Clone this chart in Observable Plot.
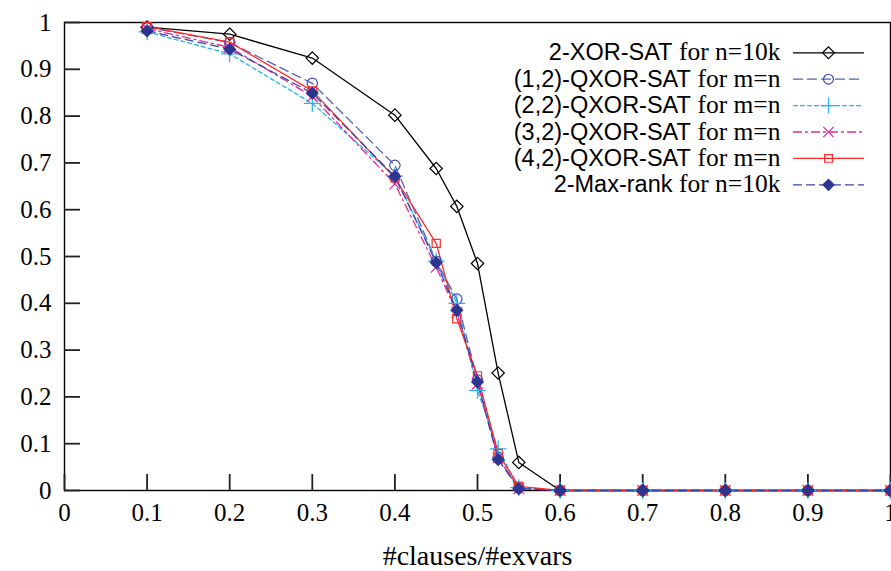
<!DOCTYPE html>
<html><head><meta charset="utf-8">
<script src="https://cdn.jsdelivr.net/npm/d3@7"></script>
<script src="https://cdn.jsdelivr.net/npm/@observablehq/plot@0.6"></script>
<style>
body{margin:0;background:#fff}
#chart svg{display:block}
#chart svg text{font-family:"Liberation Serif",serif !important;}
#chart svg g[aria-label="x-axis tick label"] text,
#chart svg g[aria-label="y-axis tick label"] text{font-size:25px !important;}
#chart svg g[aria-label="x-axis label"] text{font-size:28px !important;}
#chart svg tspan.sans{font-family:"Liberation Sans",sans-serif !important;font-size:23.5px;}
#chart svg tspan.serif{font-family:"Liberation Serif",serif !important;font-size:25.5px;}
</style>
</head><body><div id="chart"></div>
<script>
// x values: #clauses/#exvars
const ratios   = [0.1, 0.2, 0.3, 0.4, 0.45, 0.475, 0.5, 0.525, 0.55, 0.6, 0.7, 0.8, 0.9, 1.0];
const xorSat2  = [0.990, 0.975, 0.924, 0.802, 0.688, 0.607, 0.485, 0.251, 0.060, 0, 0, 0, 0, 0];
const qxor12   = [0.990, 0.957, 0.870, 0.695, 0.490, 0.409, 0.236, 0.070, 0.005, 0, 0, 0, 0, 0];
const qxor22   = [0.980, 0.933, 0.827, 0.672, 0.490, 0.400, 0.214, 0.089, 0.006, 0, 0, 0, 0, 0];
const qxor32   = [0.987, 0.947, 0.842, 0.655, 0.477, 0.380, 0.228, 0.070, 0.004, 0, 0, 0, 0, 0];
const qxor42   = [0.991, 0.958, 0.854, 0.668, 0.528, 0.367, 0.245, 0.079, 0.009, 0, 0, 0, 0, 0];
const maxRank2 = [0.982, 0.943, 0.849, 0.671, 0.487, 0.385, 0.232, 0.066, 0.004, 0, 0, 0, 0, 0];
const seriesNames = ["2-XOR-SAT for n=10k", "(1,2)-QXOR-SAT for m=n", "(2,2)-QXOR-SAT for m=n",
                     "(3,2)-QXOR-SAT for m=n", "(4,2)-QXOR-SAT for m=n", "2-Max-rank for n=10k"];
const seriesValues = [xorSat2, qxor12, qxor22, qxor32, qxor42, maxRank2];
const xTicks = [0, 0.1, 0.2, 0.3, 0.4, 0.5, 0.6, 0.7, 0.8, 0.9, 1];
const yTicks = [0, 0.1, 0.2, 0.3, 0.4, 0.5, 0.6, 0.7, 0.8, 0.9, 1];
const xLabel = "#clauses/#exvars";

// styles (separate from data)
const styles = [
  {stroke: "#000000", dash: null,        symbol: "diamond2", fill: "none",    r: 5.6, mstroke: "#000000"},
  {stroke: "#5560b8", dash: "9,5",       symbol: "circle",   fill: "none",    r: 5.2, mstroke: "#3f4ab8"},
  {stroke: "#22b4ee", dash: "4,3",       symbol: "plus",     fill: "none",    r: 5.5, mstroke: "#22b4ee"},
  {stroke: "#e0289a", dash: "8,4,2,4",   symbol: "times",    fill: "none",    r: 5.0, mstroke: "#e0289a"},
  {stroke: "#ff2a2a", dash: null,        symbol: "square",   fill: "none",    r: 4.6, mstroke: "#ff2a2a"},
  {stroke: "#3a44a8", dash: "8,5",       symbol: "diamond2", fill: "#2c3590", r: 5.2, mstroke: "#2c3590"}
];

const W = 891, H = 571, mL = 64, mR = 1, mT = 22, mB = 81;
const plotW = W - mL - mR, plotH = H - mT - mB;
const tickLen = 16;

const marks = [];
marks.push(Plot.frame({stroke: "#000", strokeWidth: 1.4}));
marks.push(Plot.tickX(xTicks, {x: d => d, insetTop: plotH - tickLen, stroke: "#222", strokeWidth: 1.8}));
marks.push(Plot.tickY(yTicks, {y: d => d, insetRight: plotW - tickLen, stroke: "#222", strokeWidth: 1.8}));

seriesValues.forEach((vals, i) => {
  const s = styles[i];
  const data = ratios.map((x, j) => ({x, y: vals[j]}));
  marks.push(Plot.line(data, {x: "x", y: "y", stroke: s.stroke, strokeWidth: 1.3, strokeDasharray: s.dash}));
});
seriesValues.forEach((vals, i) => {
  const s = styles[i];
  const data = ratios.map((x, j) => ({x, y: vals[j]}));
  marks.push(Plot.dot(data, {x: "x", y: "y", symbol: s.symbol, r: s.r, stroke: s.mstroke, fill: s.fill, strokeWidth: 1.2}));
});

// legend (inside the frame, top-right)
const pxToX = px => (px - mL) / plotW;
const pxToY = py => 1 - (py - mT) / plotH;
seriesNames.forEach((name, i) => {
  const s = styles[i];
  const rowY = pxToY(52.3 + 26.4 * i);
  marks.push(Plot.text([name], {x: pxToX(780), y: rowY, text: d => d, textAnchor: "end", lineAnchor: "middle", fill: "#000", fontSize: 24}));
  marks.push(Plot.line([{x: pxToX(793), y: rowY}, {x: pxToX(863), y: rowY}], {x: "x", y: "y", stroke: s.stroke, strokeWidth: 1.3, strokeDasharray: s.dash}));
  marks.push(Plot.dot([{x: pxToX(828), y: rowY}], {x: "x", y: "y", symbol: s.symbol, r: s.r * 0.95, stroke: s.mstroke, fill: s.fill, strokeWidth: 1.2}));
});

const chart = Plot.plot({
  width: W, height: H,
  marginLeft: mL, marginRight: mR, marginTop: mT, marginBottom: mB,
  style: {color: "#000", background: "#fff", overflow: "hidden"},
  x: {domain: [0, 1], ticks: xTicks, tickSize: 0, tickPadding: 13, tickFormat: d => String(d),
      label: xLabel, labelAnchor: "center", labelOffset: 74, labelArrow: "none"},
  y: {domain: [0, 1], ticks: yTicks, tickSize: 0, tickPadding: 13, tickFormat: d => String(d), label: null},
  marks
});
document.getElementById("chart").appendChild(chart);

// mixed fonts in legend: sans-serif name part, serif "for ..." part
const ns = "http://www.w3.org/2000/svg";
chart.querySelectorAll("text").forEach(t => {
  const txt = t.textContent;
  if (seriesNames.includes(txt)) {
    const k = txt.indexOf(" for ");
    const a = txt.slice(0, k), b = txt.slice(k + 1);
    t.textContent = "";
    const t1 = document.createElementNS(ns, "tspan");
    t1.setAttribute("class", "sans");
    t1.textContent = a + "\u00a0";
    const t2 = document.createElementNS(ns, "tspan");
    t2.setAttribute("class", "serif");
    t2.textContent = b;
    t.appendChild(t1); t.appendChild(t2);
  }
});
</script></body></html>
